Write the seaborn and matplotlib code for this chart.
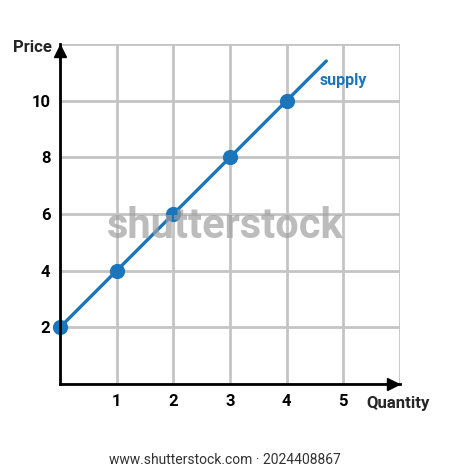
import matplotlib
matplotlib.use("Agg")
import matplotlib.pyplot as plt
import seaborn as sns

# supply points
quantity = [0, 1, 2, 3, 4]
price = [2, 4, 6, 8, 10]
# the line runs a little past the last point
line_qty = [0, 4.7]
line_price = [2, 11.4]

x_ticks = [0, 1, 2, 3, 4, 5, 6]
x_labels = ["", "1", "2", "3", "4", "5", ""]
y_ticks = [0, 2, 4, 6, 8, 10, 12]
y_labels = ["", "2", "4", "6", "8", "10", ""]

blue = "#1b75bb"

sns.set_style("white")
plt.rcParams["font.family"] = ["Roboto", "DejaVu Sans"]

fig = plt.figure(figsize=(4.5, 4.7), dpi=100)
ax = fig.add_axes([0.1333, 0.183, 0.7556, 0.7234])

sns.lineplot(x=line_qty, y=line_price, ax=ax, color=blue, linewidth=2.4, zorder=3)
sns.scatterplot(x=quantity, y=price, ax=ax, color=blue, s=120, linewidth=0,
                zorder=4, clip_on=False)

ax.set_xlim(0, 6)
ax.set_ylim(0, 12)
ax.set_xticks(x_ticks)
ax.set_xticklabels(x_labels)
ax.set_yticks(y_ticks)
ax.set_yticklabels(y_labels)
ax.tick_params(length=0, labelsize=12, pad=7, colors="black")
for lab in ax.get_xticklabels() + ax.get_yticklabels():
    lab.set_fontweight("bold")
ax.grid(True, color="#c4c4c4", linewidth=2)
ax.set_axisbelow(True)

for side in ["top", "right"]:
    ax.spines[side].set_visible(False)
for side in ["left", "bottom"]:
    ax.spines[side].set_color("black")
    ax.spines[side].set_linewidth(2)
    ax.spines[side].set_zorder(5)

# arrow heads on the axes
ax.plot(5.87, 0, ">", color="black", markersize=9, clip_on=False, zorder=6)
ax.plot(0, 11.75, "^", color="black", markersize=9, clip_on=False, zorder=6)

ax.set_xlabel("")
ax.set_ylabel("")
fig.text(0.072, 0.90, "Price", fontsize=12, fontweight="bold", ha="center", va="center")
fig.text(0.884, 0.141, "Quantity", fontsize=12, fontweight="bold", ha="center", va="center")
ax.text(4.58, 10.7, "supply", color=blue, fontsize=11.5, fontweight="bold", ha="left", va="center")

# watermark and footer from the source picture
fig.text(0.5, 0.518, "shutterstock", fontsize=30, fontweight="bold", color="#a0a0a0",
         alpha=0.7, ha="center", va="center", zorder=10)
fig.text(0.5, 0.021, "www.shutterstock.com · 2024408867", fontsize=10, color="#333333",
         ha="center", va="center")

fig.savefig("out.png", dpi=100)
